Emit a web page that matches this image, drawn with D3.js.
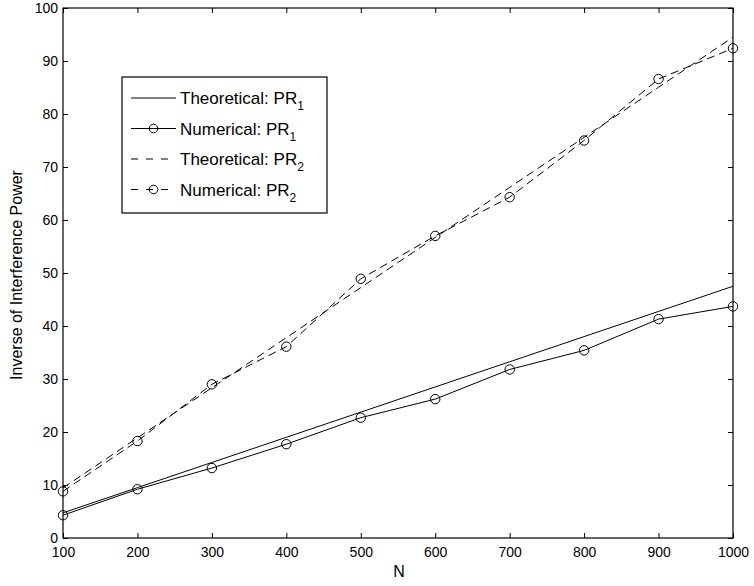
<!DOCTYPE html>
<html>
<head>
<meta charset="utf-8">
<script src="https://cdn.jsdelivr.net/npm/d3@7"></script>
<style>
  body { margin: 0; background: #fff; }
  svg { font-family: "Liberation Sans", Arial, sans-serif; }
</style>
</head>
<body>
<svg id="chart" width="754" height="586"></svg>
<script>
// data
const nValues = [100, 200, 300, 400, 500, 600, 700, 800, 900, 1000];
const theoPR1 = [4.75, 9.5, 14.25, 19, 23.75, 28.5, 33.25, 38, 42.75, 47.5];
const numPR1  = [4.3, 9.2, 13.2, 17.7, 22.7, 26.2, 31.8, 35.4, 41.3, 43.7];
const theoPR2 = [9.45, 18.9, 28.35, 37.8, 47.25, 56.7, 66.15, 75.6, 85.05, 94.5];
const numPR2  = [8.8, 18.3, 29.0, 36.1, 48.9, 57.0, 64.3, 75.0, 86.6, 92.4];
const xTicks = [100, 200, 300, 400, 500, 600, 700, 800, 900, 1000];
const yTicks = [0, 10, 20, 30, 40, 50, 60, 70, 80, 90, 100];

const series = [
    { label: "Theoretical: PR", sub: "1", values: theoPR1, dash: null, marker: false },
    { label: "Numerical: PR", sub: "1", values: numPR1, dash: null, marker: true },
    { label: "Theoretical: PR", sub: "2", values: theoPR2, dash: "8,5", marker: false },
    { label: "Numerical: PR", sub: "2", values: numPR2, dash: "8,5", marker: true }
];

const margin = { top: 8, right: 21, bottom: 48, left: 63 },
      width = 754 - margin.left - margin.right,
      height = 586 - margin.top - margin.bottom;

const x = d3.scaleLinear().domain([100, 1000]).range([0, width]);
const y = d3.scaleLinear().domain([0, 100]).range([height, 0]);

const svg = d3.select("#chart")
    .append("g")
    .attr("transform", `translate(${margin.left},${margin.top})`);

// axes: inward ticks, box on all four sides
const tickLen = 5;
const fmt = d3.format("d");
svg.append("g")
    .attr("transform", `translate(0,${height})`)
    .call(d3.axisBottom(x).tickValues(xTicks).tickFormat(fmt).tickSizeInner(-tickLen).tickSizeOuter(0).tickPadding(9))
    .call(g => g.select(".domain").remove());
svg.append("g")
    .call(d3.axisTop(x).tickValues(xTicks).tickSizeInner(-tickLen).tickSizeOuter(0).tickFormat(""))
    .call(g => g.select(".domain").remove());
svg.append("g")
    .call(d3.axisLeft(y).tickValues(yTicks).tickFormat(fmt).tickSizeInner(-tickLen).tickSizeOuter(0).tickPadding(5))
    .call(g => g.select(".domain").remove());
svg.append("g")
    .attr("transform", `translate(${width},0)`)
    .call(d3.axisRight(y).tickValues(yTicks).tickSizeInner(-tickLen).tickSizeOuter(0).tickFormat(""))
    .call(g => g.select(".domain").remove());

svg.selectAll(".tick text").attr("font-size", 14).attr("fill", "#000");
svg.selectAll(".tick line").attr("stroke", "#000");

svg.append("rect")
    .attr("width", width).attr("height", height)
    .attr("fill", "none").attr("stroke", "#000").attr("stroke-width", 1.2);

// lines
const line = d3.line()
    .x((d, i) => x(nValues[i]))
    .y(d => y(d));

series.forEach(s => {
    svg.append("path")
        .datum(s.values)
        .attr("d", line)
        .attr("fill", "none")
        .attr("stroke", "#000")
        .attr("stroke-width", 1)
        .attr("stroke-dasharray", s.dash);
    if (s.marker) {
        svg.selectAll(null)
            .data(s.values)
            .enter()
            .append("circle")
            .attr("cx", (d, i) => x(nValues[i]))
            .attr("cy", d => y(d))
            .attr("r", 4.7)
            .attr("fill", "none")
            .attr("stroke", "#000")
            .attr("stroke-width", 1);
    }
});

// axis labels
svg.append("text")
    .attr("x", width / 2 + 1).attr("y", height + 39)
    .attr("text-anchor", "middle").attr("font-size", 16)
    .text("N");
svg.append("text")
    .attr("transform", `translate(${-41},${height / 2 + 2}) rotate(-90)`)
    .attr("text-anchor", "middle").attr("font-size", 16)
    .text("Inverse of Interference Power");

// legend
const legend = svg.append("g").attr("transform", "translate(59,69)");
legend.append("rect")
    .attr("width", 205).attr("height", 136)
    .attr("fill", "#fff").attr("stroke", "#000").attr("stroke-width", 1.2);

series.forEach((s, i) => {
    const row = legend.append("g").attr("transform", `translate(0,${21 + i * 30.5})`);
    row.append("line")
        .attr("x1", 9).attr("x2", 54)
        .attr("stroke", "#000").attr("stroke-width", 1)
        .attr("stroke-dasharray", s.dash ? "7,8" : null);
    if (s.marker) {
        row.append("circle").attr("cx", 31.5).attr("r", 4.3)
            .attr("fill", "none").attr("stroke", "#000");
    }
    const t = row.append("text").attr("x", 58).attr("y", 6).attr("font-size", 17);
    t.append("tspan").text(s.label);
    t.append("tspan").attr("font-size", 12).attr("dy", 6).text(s.sub);
});
</script>
</body>
</html>
